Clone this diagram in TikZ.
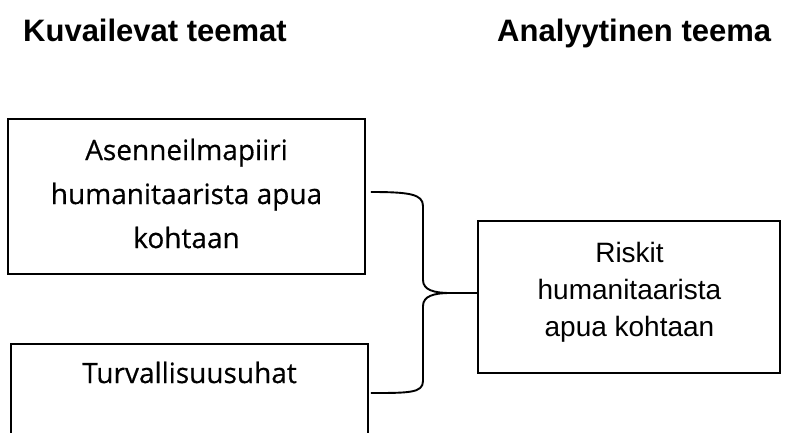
\documentclass[tikz,border=0pt]{standalone}
\usepackage{fontspec}
\newfontfamily\headfont{Liberation Sans}
\newfontfamily\bodyfont{Open Sans}[UprightFeatures={FakeBold=0.5}]
\newfontfamily\arialfont{Liberation Sans}
\begin{document}
\begin{tikzpicture}[x=1pt,y=-1pt,
  box/.style={draw, line width=1.9pt, rectangle, inner sep=0pt},
  brace/.style={line width=1.9pt},
  head/.style={anchor=base west, inner sep=0pt, font=\headfont\bfseries\fontsize{31}{37}\selectfont},
  bodytxt/.style={inner sep=0pt, font=\bodyfont\fontsize{28}{44}\selectfont},
  riskitxt/.style={inner sep=0pt, font=\arialfont\fontsize{28}{37}\selectfont}]
\useasboundingbox (0,0) rectangle (787,432);
\clip (0,0) rectangle (787,432);
\node[head] (h1) at (23,41) {Kuvailevat teemat};
\node[head] (h2) at (497,41) {Analyytinen teema};
\node[box, minimum width=357pt, minimum height=155pt] (b1) at (186.5,196.5) {};
\node[bodytxt, align=center] (t1) at (186.5,193.5) {Asenneilmapiiri\\humanitaarista apua\\kohtaan};
\node[box, minimum width=357pt, minimum height=106pt] (b2) at (189.5,397) {};
\node[bodytxt, anchor=base] (t2) at (189.5,383) {Turvallisuusuhat};
\node[box, minimum width=302pt, minimum height=152pt] (b3) at (629,297) {};
\node[riskitxt, align=center] (t3) at (629.5,292.5) {Riskit\\humanitaarista\\apua kohtaan};
\coordinate (a1) at ([xshift=5pt,yshift=4.5pt]b1.east);
\coordinate (a2) at ([xshift=2pt,yshift=4pt]b2.east);
\coordinate (tip) at (450,293);
\draw[brace] (a1) .. controls +(38,0) and +(0,-12) .. (423,206) -- (423,280)
  .. controls +(0,10) and +(-16,0) .. (tip)
  .. controls +(-16,0) and +(0,-10) .. (423,306) -- (423,381)
  .. controls +(0,12) and +(38,0) .. (a2);
\draw[brace] (tip) -- ([yshift=4pt]b3.west);
\end{tikzpicture}
\end{document}
